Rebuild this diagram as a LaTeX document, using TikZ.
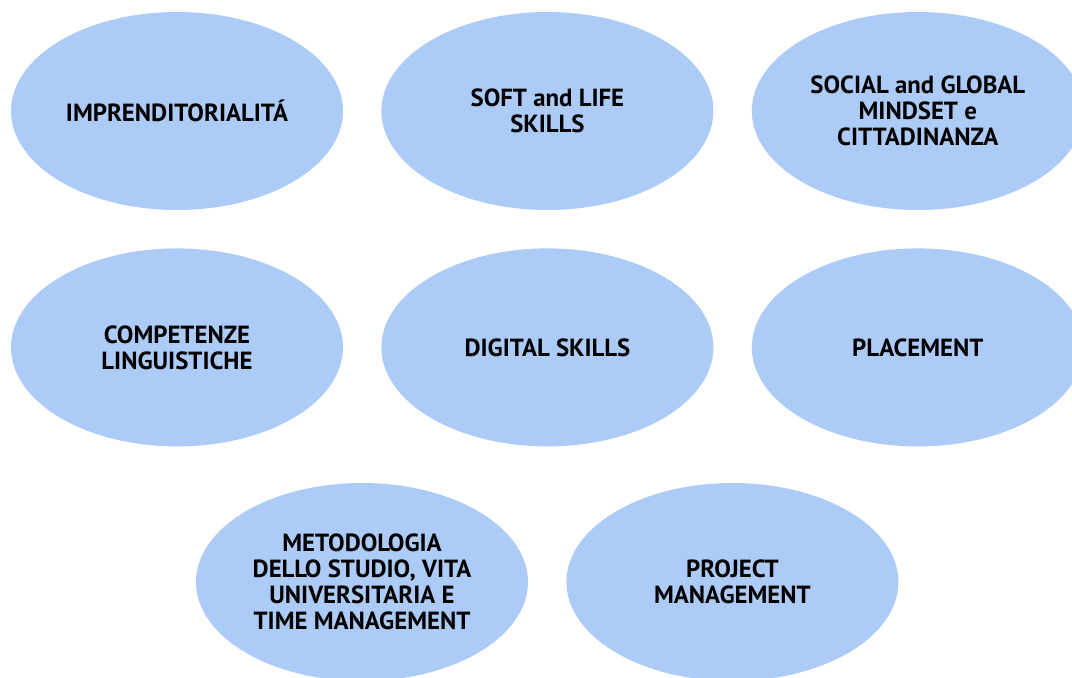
\documentclass[tikz,border=0pt]{standalone}
\usepackage{fontspec}
\setmainfont{PT Sans}
\usetikzlibrary{positioning}
\usetikzlibrary{shapes.geometric}
\definecolor{ovalblue}{RGB}{173,203,247}
\tikzset{
	oval/.style = {ellipse, fill = ovalblue, minimum width = 332pt, minimum height = 198pt, inner sep = 0pt, align = center, font = \bfseries\fontsize{24.8}{26}\selectfont}
}
\begin{document}
\begin{tikzpicture}[x = 1pt, y = 1pt]
		\useasboundingbox (0,0) rectangle (1072,-678);
		% first row
		\node[oval] at (177,-111) (impr) {IMPRENDITORIALITÁ};
		\node[oval, right = 38pt of impr] (soft) {SOFT and LIFE\\SKILLS};
		\node[oval, right = 38pt of soft] (social) {SOCIAL and GLOBAL\\MINDSET e\\CITTADINANZA};
		% second row
		\node[oval, below = 38pt of impr] (ling) {COMPETENZE\\LINGUISTICHE};
		\node[oval, below = 38pt of soft] (digital) {DIGITAL SKILLS};
		\node[oval, below = 38pt of social] (placement) {PLACEMENT};
		% third row
		\node[oval] at (362,-582) (metodo) {METODOLOGIA\\DELLO STUDIO, VITA\\UNIVERSITARIA E\\TIME MANAGEMENT};
		\node[oval, right = 38pt of metodo] (project) {PROJECT\\MANAGEMENT};
	\end{tikzpicture}
\end{document}
